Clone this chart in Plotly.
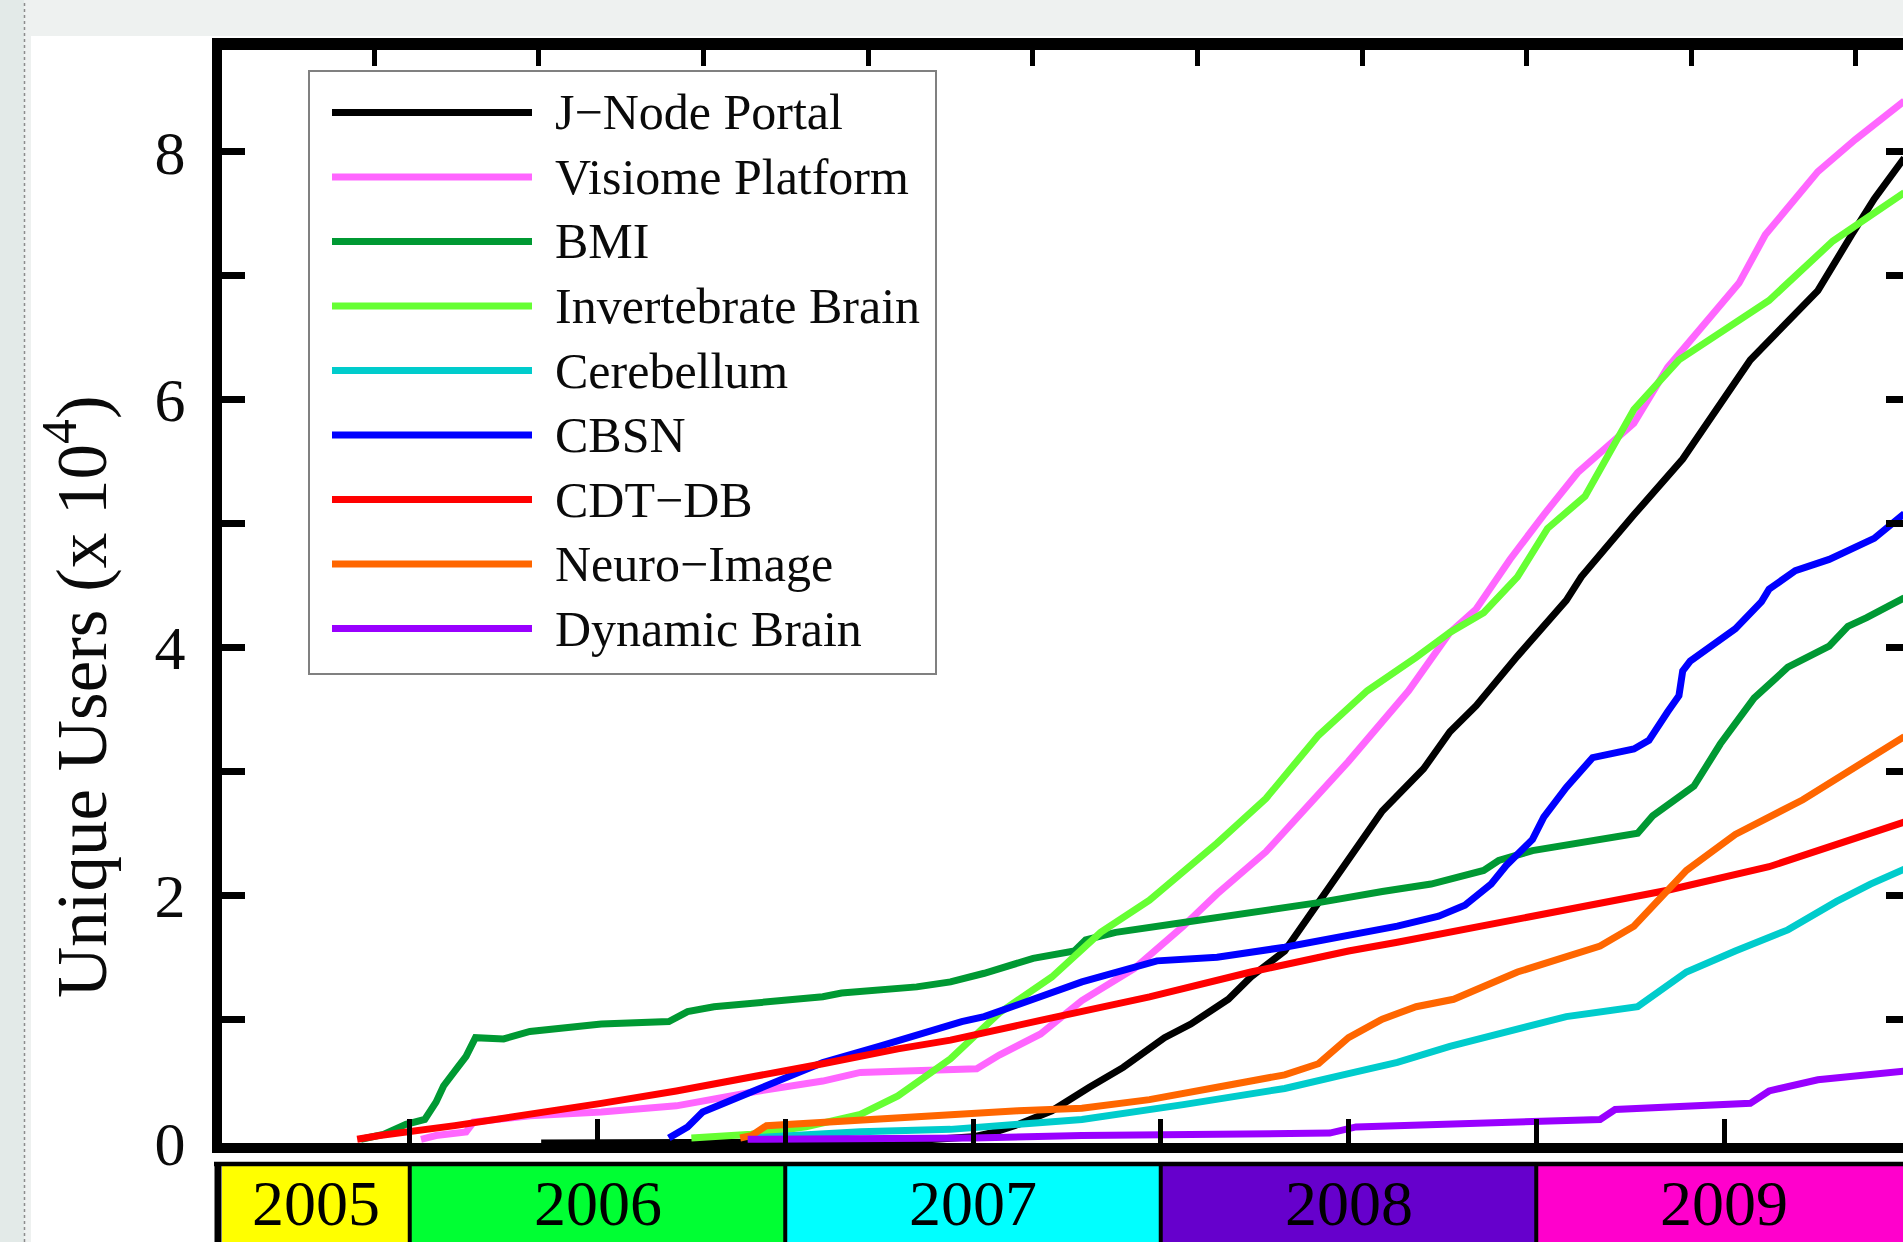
import plotly.graph_objects as go

# ---------------- data (x in fractional years, y in units of 10^4 users) ----------------
SERIES_NAMES = ["J\u2212Node Portal", "Visiome Platform", "BMI", "Invertebrate Brain",
                "Cerebellum", "CBSN", "CDT\u2212DB", "Neuro\u2212Image", "Dynamic Brain"]

jnode_x = [2006.35, 2007.30, 2007.50, 2007.56, 2007.62, 2007.71, 2007.81, 2007.90, 2008.01, 2008.08,
           2008.18, 2008.24, 2008.33, 2008.40, 2008.49, 2008.59, 2008.70, 2008.77, 2008.84, 2008.95,
           2009.08, 2009.12, 2009.26, 2009.39, 2009.57, 2009.75, 2009.84, 2009.90, 2009.98]
jnode_y = [0.0, 0.01, 0.05, 0.09, 0.15, 0.26, 0.45, 0.61, 0.85, 0.96,
           1.16, 1.34, 1.55, 1.85, 2.25, 2.68, 3.02, 3.32, 3.53, 3.93,
           4.38, 4.57, 5.07, 5.52, 6.32, 6.88, 7.33, 7.62, 7.95]

visiome_x = [2006.03, 2006.07, 2006.15, 2006.17, 2006.32, 2006.51, 2006.71, 2006.91, 2007.10, 2007.20,
             2007.30, 2007.44, 2007.51, 2007.57, 2007.68, 2007.79, 2007.93, 2008.06, 2008.15, 2008.28,
             2008.38, 2008.50, 2008.66, 2008.77, 2008.84, 2008.93, 2009.02, 2009.11, 2009.26, 2009.35,
             2009.54, 2009.61, 2009.75, 2009.85, 2009.98]
visiome_y = [0.03, 0.06, 0.09, 0.17, 0.22, 0.25, 0.30, 0.41, 0.50, 0.57,
             0.58, 0.59, 0.60, 0.71, 0.88, 1.15, 1.41, 1.75, 2.01, 2.35,
             2.68, 3.08, 3.65, 4.12, 4.31, 4.71, 5.07, 5.41, 5.81, 6.26,
             6.94, 7.33, 7.84, 8.10, 8.41]

bmi_x = [2005.87, 2005.93, 2005.99, 2006.04, 2006.07, 2006.09, 2006.13, 2006.15, 2006.175, 2006.25,
         2006.32, 2006.41, 2006.51, 2006.69, 2006.74, 2006.81, 2006.91, 2007.10, 2007.15, 2007.35,
         2007.44, 2007.53, 2007.66, 2007.77, 2007.80, 2007.88, 2008.06, 2008.24, 2008.42, 2008.59,
         2008.72, 2008.86, 2008.90, 2008.99, 2009.27, 2009.31, 2009.42, 2009.49, 2009.58, 2009.67,
         2009.78, 2009.83, 2009.88, 2009.98]
bmi_y = [0.03, 0.07, 0.15, 0.19, 0.33, 0.46, 0.62, 0.70, 0.85, 0.84,
         0.90, 0.93, 0.96, 0.98, 1.06, 1.10, 1.13, 1.18, 1.21, 1.26,
         1.30, 1.37, 1.49, 1.55, 1.64, 1.70, 1.78, 1.86, 1.94, 2.03,
         2.09, 2.20, 2.28, 2.36, 2.50, 2.64, 2.88, 3.22, 3.59, 3.84,
         4.01, 4.17, 4.24, 4.40]

invert_x = [2006.75, 2006.91, 2007.055, 2007.20, 2007.30, 2007.40, 2007.44, 2007.57, 2007.71, 2007.84,
            2007.97, 2008.15, 2008.28, 2008.42, 2008.55, 2008.68, 2008.77, 2008.86, 2008.95, 2009.03,
            2009.13, 2009.26, 2009.38, 2009.62, 2009.79, 2009.98]
invert_y = [0.04, 0.07, 0.13, 0.23, 0.38, 0.60, 0.68, 1.05, 1.34, 1.70,
            1.96, 2.42, 2.78, 3.29, 3.65, 3.92, 4.12, 4.28, 4.57, 4.96,
            5.22, 5.92, 6.32, 6.80, 7.28, 7.67]

cereb_x = [2006.90, 2007.01, 2007.20, 2007.44, 2007.79, 2008.06, 2008.33, 2008.50, 2008.63, 2008.77,
           2008.86, 2009.08, 2009.27, 2009.40, 2009.53, 2009.67, 2009.80, 2009.89, 2009.98]
cereb_y = [0.04, 0.06, 0.09, 0.11, 0.19, 0.31, 0.44, 0.56, 0.65, 0.78,
           0.85, 1.02, 1.10, 1.38, 1.55, 1.72, 1.95, 2.09, 2.21]

cbsn_x = [2006.69, 2006.74, 2006.78, 2006.86, 2006.96, 2007.10, 2007.25, 2007.40, 2007.47, 2007.53,
          2007.71, 2007.79, 2007.99, 2008.15, 2008.33, 2008.50, 2008.63, 2008.74, 2008.81, 2008.88,
          2008.92, 2008.99, 2009.02, 2009.08, 2009.15, 2009.26, 2009.30, 2009.35, 2009.38, 2009.39,
          2009.41, 2009.53, 2009.60, 2009.62, 2009.69, 2009.78, 2009.90, 2009.98]
cbsn_y = [0.04, 0.13, 0.25, 0.35, 0.47, 0.65, 0.78, 0.92, 0.98, 1.02,
          1.21, 1.30, 1.47, 1.50, 1.58, 1.68, 1.75, 1.83, 1.92, 2.09,
          2.24, 2.45, 2.63, 2.87, 3.11, 3.18, 3.25, 3.48, 3.61, 3.81,
          3.89, 4.15, 4.37, 4.47, 4.62, 4.71, 4.88, 5.08]

cdt_x = [2005.86, 2005.92, 2006.12, 2006.32, 2006.51, 2006.71, 2006.91, 2007.10, 2007.30, 2007.44,
         2007.71, 2007.97, 2008.24, 2008.50, 2008.63, 2008.77, 2008.99, 2009.35, 2009.62, 2009.98]
cdt_y = [0.03, 0.06, 0.14, 0.23, 0.32, 0.42, 0.53, 0.64, 0.76, 0.83,
         1.01, 1.18, 1.38, 1.55, 1.62, 1.70, 1.83, 2.04, 2.23, 2.59]

neuro_x = [2006.88, 2006.91, 2006.95, 2007.10, 2007.30, 2007.47, 2007.62, 2007.79, 2007.97, 2008.15,
           2008.33, 2008.42, 2008.50, 2008.59, 2008.68, 2008.78, 2008.95, 2009.17, 2009.26, 2009.40,
           2009.53, 2009.71, 2009.89, 2009.98]
neuro_y = [0.04, 0.06, 0.14, 0.17, 0.21, 0.23, 0.26, 0.28, 0.35, 0.45,
           0.55, 0.64, 0.85, 1.00, 1.10, 1.16, 1.38, 1.59, 1.75, 2.20,
           2.49, 2.77, 3.11, 3.28]

dynamic_x = [2006.90, 2007.50, 2007.79, 2008.00, 2008.45, 2008.52, 2008.99, 2009.17, 2009.21, 2009.57,
             2009.62, 2009.75, 2009.98]
dynamic_y = [0.03, 0.04, 0.06, 0.07, 0.08, 0.13, 0.17, 0.19, 0.27, 0.32,
             0.42, 0.51, 0.58]

SERIES_X = [jnode_x, visiome_x, bmi_x, invert_x, cereb_x, cbsn_x, cdt_x, neuro_x, dynamic_x]
SERIES_Y = [jnode_y, visiome_y, bmi_y, invert_y, cereb_y, cbsn_y, cdt_y, neuro_y, dynamic_y]

YEARS = [2005, 2006, 2007, 2008, 2009]
Y_MINOR_TICKS = [0, 1, 2, 3, 4, 5, 6, 7, 8]
Y_TITLE = "Unique Users (x 10<sup>4</sup>)"

# ---------------- styles ----------------
LINE_COLORS = ["#000000", "#FF66FF", "#009933", "#66FF33", "#00CCCC",
               "#0000FF", "#FF0000", "#FF6600", "#9900FF"]
YEAR_COLORS = ["#FFFF00", "#00FF33", "#00FFFF", "#6600CC", "#FF00CC"]
FONT = "Liberation Serif, Times New Roman, serif"
LW = 7

# ---------------- geometry ----------------
W, H = 1903, 1242
ML, MR, MT, MB = 222, 0, 50, 99
PW = W - ML - MR
PH = H - MT - MB
PX_PER_YEAR = 375.5
PX_PER_UNIT = 123.9
X_RANGE = [2005.5, 2005.5 + PW / PX_PER_YEAR]
Y_RANGE = [0.0, PH / PX_PER_UNIT]


def px_x(px):
    return (px - ML) / PW


def px_y(py):
    return (H - MB - py) / PH


fig = go.Figure()
n = len(SERIES_NAMES)
for i in range(n):
    last = (i == n - 1)
    fig.add_trace(go.Scatter(
        x=SERIES_X[i], y=SERIES_Y[i], name=SERIES_NAMES[i], mode="lines",
        line=dict(color=LINE_COLORS[i], width=LW),
        showlegend=False,
        xaxis="x2" if last else "x", yaxis="y2" if last else "y",
    ))

shapes = []
annotations = []

# slide background decorations
shapes.append(dict(type="rect", xref="paper", yref="paper", layer="below",
                   x0=px_x(0), x1=px_x(24), y0=px_y(H), y1=px_y(0),
                   fillcolor="#e3eae8", line=dict(width=0)))
shapes.append(dict(type="line", xref="paper", yref="paper", layer="below",
                   x0=px_x(24.5), x1=px_x(24.5), y0=px_y(H), y1=px_y(0),
                   line=dict(color="#8c8c8c", width=1.5, dash="dot")))
shapes.append(dict(type="rect", xref="paper", yref="paper", layer="below",
                   x0=px_x(31), x1=px_x(W), y0=px_y(H), y1=px_y(36),
                   fillcolor="#ffffff", line=dict(width=0)))

# year strip below the axis
bar_top = px_y(1164)
bar_bot = px_y(1260)
for yr, col in zip(YEARS, YEAR_COLORS):
    shapes.append(dict(type="rect", xref="x", yref="paper", layer="above",
                       x0=yr, x1=yr + 1, y0=bar_bot, y1=bar_top,
                       fillcolor=col, line=dict(width=0)))
    xc = (max(yr, X_RANGE[0]) + min(yr + 1, 2010)) / 2
    annotations.append(dict(xref="x", yref="paper", x=xc, y=px_y(1204),
                            text=str(yr), showarrow=False, xanchor="center", yanchor="middle",
                            font=dict(family=FONT, size=64, color="#000000")))
for yr in YEARS[1:]:
    shapes.append(dict(type="line", xref="x", yref="paper", layer="above",
                       x0=yr, x1=yr, y0=bar_bot, y1=bar_top,
                       line=dict(color="#000000", width=4)))
shapes.append(dict(type="line", xref="paper", yref="paper", layer="above",
                   x0=px_x(214), x1=px_x(W + 5), y0=bar_top, y1=bar_top,
                   line=dict(color="#000000", width=4.5)))
shapes.append(dict(type="line", xref="paper", yref="paper", layer="above",
                   x0=px_x(218), x1=px_x(218), y0=bar_bot, y1=px_y(1162),
                   line=dict(color="#000000", width=7)))

# legend (drawn by hand to get long line samples)
shapes.append(dict(type="rect", xref="paper", yref="paper", layer="above",
                   x0=px_x(309), x1=px_x(936), y0=px_y(674), y1=px_y(71),
                   fillcolor="#ffffff", line=dict(color="#808080", width=2)))
for i in range(n):
    yc = px_y(112.5 + 64.5 * i)
    shapes.append(dict(type="line", xref="paper", yref="paper", layer="above",
                       x0=px_x(332), x1=px_x(532), y0=yc, y1=yc,
                       line=dict(color=LINE_COLORS[i], width=LW)))
    annotations.append(dict(xref="paper", yref="paper", x=px_x(553), y=yc,
                            text=SERIES_NAMES[i], showarrow=False,
                            xanchor="left", yanchor="middle",
                            font=dict(family=FONT, size=50, color="#0a0a0a")))

# y-axis title
annotations.append(dict(xref="paper", yref="paper", x=px_x(77), y=px_y(697),
                        text=Y_TITLE, textangle=-90, showarrow=False,
                        xanchor="center", yanchor="middle",
                        font=dict(family=FONT, size=71, color="#0a0a0a")))

axis_common = dict(showgrid=False, zeroline=False, fixedrange=True,
                   linecolor="#000000", tickcolor="#000000", ticks="inside")

fig.update_layout(
    width=W, height=H, autosize=False,
    margin=dict(l=ML, r=MR, t=MT, b=MB, pad=0),
    paper_bgcolor="#eef1f0", plot_bgcolor="#ffffff",
    showlegend=False,
    font=dict(family=FONT, color="#0a0a0a"),
    xaxis=dict(range=X_RANGE, showline=True, linewidth=10, tick0=2006, dtick=0.5,
               ticklen=24, tickwidth=5, showticklabels=False, **axis_common),
    yaxis=dict(range=Y_RANGE, showline=True, linewidth=10, tickmode="linear",
               tick0=0, dtick=2, ticklen=23, tickwidth=7,
               tickfont=dict(family=FONT, size=62, color="#0a0a0a"),
               ticklabelstandoff=14,
               minor=dict(ticks="inside", tick0=0, dtick=1, ticklen=23, tickwidth=7,
                          tickcolor="#000000", showgrid=False),
               **axis_common),
    xaxis2=dict(range=X_RANGE, overlaying="x", side="top", anchor="y2", showline=True,
                linewidth=12, tick0=2005.9057, dtick=0.4384, ticklen=16, tickwidth=5,
                showticklabels=False, **axis_common),
    yaxis2=dict(range=Y_RANGE, overlaying="y", side="right", anchor="x2", showline=False,
                tickmode="array", tickvals=Y_MINOR_TICKS, ticklen=17, tickwidth=7,
                showticklabels=False, **axis_common),
    shapes=shapes,
    annotations=annotations,
)

fig.write_html(
    "out.html",
    config={"displayModeBar": False, "staticPlot": True},
    post_script="document.body.style.margin='0';document.body.style.overflow='hidden';",
)
